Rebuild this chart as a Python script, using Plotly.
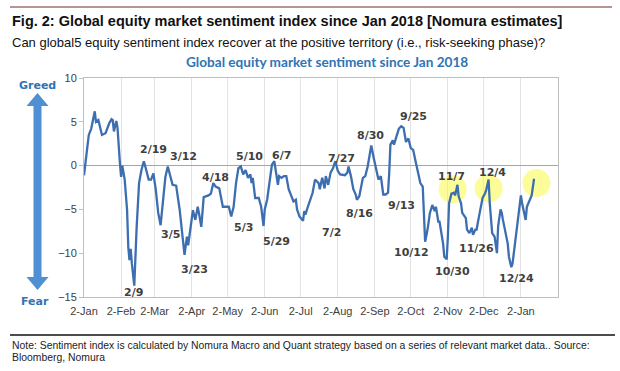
import plotly.graph_objects as go

# ---------------- data ----------------
dates = [
    "2018-01-02", "2018-01-04", "2018-01-06", "2018-01-08", "2018-01-11", "2018-01-12", "2018-01-14",
    "2018-01-17", "2018-01-20", "2018-01-23", "2018-01-25", "2018-01-26", "2018-01-27", "2018-01-29",
    "2018-01-30", "2018-02-01", "2018-02-02", "2018-02-03", "2018-02-05", "2018-02-07", "2018-02-08",
    "2018-02-09", "2018-02-10", "2018-02-11", "2018-02-13", "2018-02-15", "2018-02-17", "2018-02-19",
    "2018-02-21", "2018-02-23", "2018-02-25", "2018-02-27", "2018-03-01", "2018-03-03", "2018-03-05",
    "2018-03-07", "2018-03-09", "2018-03-11", "2018-03-13", "2018-03-15", "2018-03-17", "2018-03-20",
    "2018-03-22", "2018-03-23", "2018-03-25", "2018-03-26", "2018-03-27", "2018-03-28", "2018-03-29",
    "2018-03-30", "2018-04-01", "2018-04-03", "2018-04-05", "2018-04-07", "2018-04-08", "2018-04-10",
    "2018-04-12", "2018-04-16", "2018-04-18", "2018-04-20", "2018-04-22", "2018-04-25", "2018-04-28",
    "2018-05-03", "2018-05-05", "2018-05-07", "2018-05-09", "2018-05-11", "2018-05-13", "2018-05-15",
    "2018-05-17", "2018-05-19", "2018-05-21", "2018-05-22", "2018-05-23", "2018-05-25", "2018-05-28",
    "2018-05-30", "2018-06-01", "2018-06-02", "2018-06-04", "2018-06-06", "2018-06-08", "2018-06-10",
    "2018-06-11", "2018-06-13", "2018-06-14", "2018-06-16", "2018-06-18", "2018-06-20", "2018-06-22",
    "2018-06-24", "2018-06-26", "2018-06-28", "2018-06-29", "2018-07-01", "2018-07-04", "2018-07-05",
    "2018-07-06", "2018-07-08", "2018-07-10", "2018-07-12", "2018-07-14", "2018-07-17", "2018-07-18",
    "2018-07-20", "2018-07-22", "2018-07-23", "2018-07-25", "2018-07-27", "2018-07-29", "2018-07-31",
    "2018-08-02", "2018-08-04", "2018-08-08", "2018-08-10", "2018-08-11", "2018-08-13", "2018-08-15",
    "2018-08-17", "2018-08-18", "2018-08-20", "2018-08-23", "2018-08-25", "2018-08-27", "2018-08-29",
    "2018-08-30", "2018-09-01", "2018-09-03", "2018-09-05", "2018-09-07", "2018-09-09", "2018-09-11",
    "2018-09-13", "2018-09-14", "2018-09-15", "2018-09-17", "2018-09-18", "2018-09-20", "2018-09-22",
    "2018-09-24", "2018-09-26", "2018-09-28", "2018-09-30", "2018-10-02", "2018-10-04", "2018-10-06",
    "2018-10-08", "2018-10-10", "2018-10-12", "2018-10-13", "2018-10-14", "2018-10-16", "2018-10-18",
    "2018-10-20", "2018-10-22", "2018-10-23", "2018-10-25", "2018-10-26", "2018-10-28", "2018-10-29",
    "2018-10-30", "2018-11-01", "2018-11-02", "2018-11-03", "2018-11-05", "2018-11-07", "2018-11-08",
    "2018-11-10", "2018-11-11", "2018-11-13", "2018-11-14", "2018-11-17", "2018-11-18", "2018-11-20",
    "2018-11-22", "2018-11-23", "2018-11-25", "2018-11-26", "2018-11-28", "2018-11-30", "2018-12-01",
    "2018-12-03", "2018-12-04", "2018-12-06", "2018-12-07", "2018-12-09", "2018-12-11", "2018-12-13",
    "2018-12-14", "2018-12-16", "2018-12-17", "2018-12-18", "2018-12-20", "2018-12-22", "2018-12-23",
    "2018-12-25", "2018-12-26", "2018-12-28", "2018-12-30", "2019-01-01", "2019-01-02", "2019-01-03",
    "2019-01-06", "2019-01-07", "2019-01-09", "2019-01-11", "2019-01-13",
]
sentiment = [
    -1.1, 1.0, 3.5, 4.2, 6.2, 5.0, 5.2,
    3.5, 3.7, 4.8, 5.3, 5.2, 3.9, 5.1,
    4.3, 0.3, -1.3, 0.0, -1.6, -5.1, -9.3,
    -10.8, -9.5, -11.2, -13.7, -7.0, -2.0, -0.5,
    0.5, -0.5, -1.6, -1.6, -0.9, -2.8, -5.4,
    -6.8, -4.3, -1.3, -0.1, -1.3, -2.2, -2.3,
    -3.9, -5.1, -7.7, -8.9, -10.2, -9.1, -8.1,
    -9.1, -7.0, -5.1, -6.2, -4.7, -5.4, -7.0,
    -3.6, -3.4, -3.2, -2.0, -2.4, -2.6, -4.7,
    -4.7, -5.8, -4.7, -2.0, -0.3, -0.1, -1.0,
    -0.5, -1.4, -1.0, -2.0, -1.4, -3.7, -3.7,
    -4.7, -6.9, -5.0, -3.9, -1.6, 0.1, 0.5,
    -0.5, -2.2, -1.2, -1.4, -1.2, -1.2, -2.7,
    -3.3, -4.1, -3.9, -5.0, -5.8, -6.3, -5.2,
    -5.6, -4.7, -3.9, -3.1, -1.6, -2.0, -2.7,
    -1.4, -2.6, -1.2, -2.2, -0.8, -0.3, 0.5,
    -0.6, -1.0, -1.1, -0.8, -0.1, -1.2, -2.7,
    -3.3, -3.9, -3.5, -1.4, -1.2, -0.1, 1.8,
    2.3, 0.9, -0.3, -1.6, -1.2, -3.3, -3.3,
    -3.1, -0.8, 2.4, 2.9, 2.4, 3.3, 4.2,
    4.5, 4.3, 2.7, 3.1, 2.0, 1.8, 0.5,
    -0.7, -2.0, -2.4, -5.8, -8.7, -7.3, -5.4,
    -4.5, -5.2, -4.7, -6.4, -6.4, -8.1, -8.9,
    -10.4, -10.7, -8.1, -4.3, -3.2, -3.1, -3.4,
    -2.2, -3.5, -4.3, -5.4, -6.0, -7.3, -7.7,
    -7.1, -7.9, -7.3, -7.3, -5.8, -4.3, -3.7,
    -3.2, -2.8, -1.6, -4.3, -7.7, -8.1, -10.0,
    -6.9, -5.0, -5.4, -6.2, -7.7, -8.9, -10.4,
    -11.6, -11.2, -8.9, -6.9, -5.0, -3.4, -4.3,
    -6.2, -4.7, -4.1, -3.4, -1.5,
]

# highlighted recent peaks (yellow circles)
highlight_dates = ["2018-11-06", "2018-12-06", "2019-01-15"]
highlight_values = [-2.7, -2.6, -2.0]

# date call-outs: text, x (date), y (value)
callout_text = ["2/9", "2/19", "3/12", "3/5", "3/23", "4/18", "5/10", "5/3", "5/29", "6/7", "7/2",
                "7/27", "8/16", "8/30", "9/13", "9/25", "10/12", "10/30", "11/7", "11/26", "12/4", "12/24"]
callout_x = ["2018-02-12", "2018-03-01", "2018-03-26", "2018-03-15", "2018-04-04", "2018-04-22",
             "2018-05-20", "2018-05-15", "2018-06-12", "2018-06-16", "2018-07-28", "2018-08-05",
             "2018-08-20", "2018-08-29", "2018-09-24", "2018-10-04", "2018-10-03", "2018-11-06",
             "2018-11-05", "2018-11-26", "2018-12-09", "2018-12-29"]
callout_y = [-14.5, 1.8, 1.0, -7.9, -11.9, -1.4, 1.0, -7.1, -8.7, 1.1, -7.6,
             0.85, -5.5, 3.4, -4.6, 5.6, -9.95, -12.1, -1.2, -9.45, -0.8, -12.9]

tick_dates = ["2018-01-02", "2018-02-02", "2018-03-02", "2018-04-02", "2018-05-02", "2018-06-02",
              "2018-07-02", "2018-08-02", "2018-09-02", "2018-10-02", "2018-11-02", "2018-12-02",
              "2019-01-02"]
tick_labels = ["2-Jan", "2-Feb", "2-Mar", "2-Apr", "2-May", "2-Jun", "2-Jul", "2-Aug", "2-Sep",
               "2-Oct", "2-Nov", "2-Dec", "2-Jan"]

# ---------------- layout geometry ----------------
W, H = 620, 371
L, R, T, B = 84, 62, 78, 74
PW, PH = W - L - R, H - T - B


def px(x):
    return (x - L) / PW


def py(y):
    return (H - B - y) / PH


BLUE_TXT = "#2f74b5"
LINE_BLUE = "#3c6eb0"
SANS = "Liberation Sans, Arial, sans-serif"

fig = go.Figure()

fig.add_trace(go.Scatter(
    x=highlight_dates, y=highlight_values, mode="markers",
    marker=dict(size=28, color="rgba(250,250,70,0.55)", line=dict(width=0)),
    hoverinfo="skip", showlegend=False,
))
fig.add_trace(go.Scatter(
    x=dates, y=sentiment, mode="lines",
    line=dict(color=LINE_BLUE, width=2.3),
    showlegend=False,
))

annotations = []
for t, x, y in zip(callout_text, callout_x, callout_y):
    annotations.append(dict(
        x=x, y=y, xref="x", yref="y", text=t, showarrow=False,
        font=dict(family="DejaVu Sans", size=11, color="#3f3f3f", weight="bold"),
    ))

# titles and notes
annotations += [
    dict(x=px(10), y=py(21), xref="paper", yref="paper", xanchor="left", yanchor="middle",
         text="<b>Fig. 2: Global equity market sentiment index since Jan 2018 [Nomura estimates]</b>",
         showarrow=False, font=dict(family=SANS, size=14.5, color="#111111")),
    dict(x=px(10), y=py(43), xref="paper", yref="paper", xanchor="left", yanchor="middle",
         text="Can global5 equity sentiment index recover at the positive territory (i.e., risk-seeking phase)?",
         showarrow=False, font=dict(family=SANS, size=13.0, color="#111111")),
    dict(x=px(327), y=py(62), xref="paper", yref="paper", xanchor="center", yanchor="middle",
         text="<b>Global equity market sentiment since Jan 2018</b>",
         showarrow=False, font=dict(family="Lato", size=13.6, color=BLUE_TXT)),
    dict(x=px(37.5), y=py(85), xref="paper", yref="paper", xanchor="center", yanchor="middle",
         text="<b>Greed</b>", showarrow=False,
         font=dict(family="DejaVu Sans", size=11, color=BLUE_TXT)),
    dict(x=px(35), y=py(301), xref="paper", yref="paper", xanchor="center", yanchor="middle",
         text="<b>Fear</b>", showarrow=False,
         font=dict(family="DejaVu Sans", size=11, color=BLUE_TXT)),
    dict(x=px(10), y=py(345), xref="paper", yref="paper", xanchor="left", yanchor="middle",
         text="Note: Sentiment index is calculated by Nomura Macro and Quant strategy based on a series of relevant market data.. Source:",
         showarrow=False, font=dict(family=SANS, size=10.4, color="#222222")),
    dict(x=px(10), y=py(357), xref="paper", yref="paper", xanchor="left", yanchor="middle",
         text="Bloomberg, Nomura",
         showarrow=False, font=dict(family=SANS, size=10.4, color="#222222")),
]

# double-headed Greed/Fear arrow
cx, top, bot, hh, hw, sw = 37.5, 93, 290, 13, 11, 4
pts = [(cx, top), (cx + hw, top + hh), (cx + sw, top + hh), (cx + sw, bot - hh), (cx + hw, bot - hh),
       (cx, bot), (cx - hw, bot - hh), (cx - sw, bot - hh), (cx - sw, top + hh), (cx - hw, top + hh)]
path = "M " + " L ".join(f"{px(a):.5f},{py(b):.5f}" for a, b in pts) + " Z"

shapes = [
    dict(type="path", path=path, xref="paper", yref="paper",
         fillcolor="#4f8fd3", line=dict(width=0)),
    dict(type="line", xref="paper", yref="paper", x0=px(10), x1=px(612), y0=py(7), y1=py(7),
         line=dict(color="#6b2b2b", width=1)),
    dict(type="line", xref="paper", yref="paper", x0=px(10), x1=px(615), y0=py(335), y1=py(335),
         line=dict(color="#111111", width=1.3)),
]

fig.update_layout(
    width=W, height=H,
    margin=dict(l=L, r=R, t=T, b=B),
    paper_bgcolor="white", plot_bgcolor="white",
    annotations=annotations, shapes=shapes,
    showlegend=False,
    xaxis=dict(
        type="date", range=["2018-01-02", "2019-02-02"],
        tickvals=tick_dates, ticktext=tick_labels,
        showgrid=True, gridcolor="#e3e3e3", gridwidth=1,
        showline=True, linecolor="#bfbfbf", mirror=True,
        ticks="", ticklabelstandoff=4,
        tickfont=dict(family=SANS, size=11, color="#404040"),
        zeroline=False,
    ),
    yaxis=dict(
        range=[-15, 10], dtick=5, tick0=0,
        showgrid=False,
        zeroline=True, zerolinecolor="#a6a6a6", zerolinewidth=1,
        showline=True, linecolor="#bfbfbf", mirror=True,
        ticks="outside", ticklen=4, tickcolor="#bfbfbf",
        tickfont=dict(family=SANS, size=11, color="#404040"),
    ),
)

fig.write_html("out.html", config={"displayModeBar": False},
               post_script="document.body.style.margin='0';")
